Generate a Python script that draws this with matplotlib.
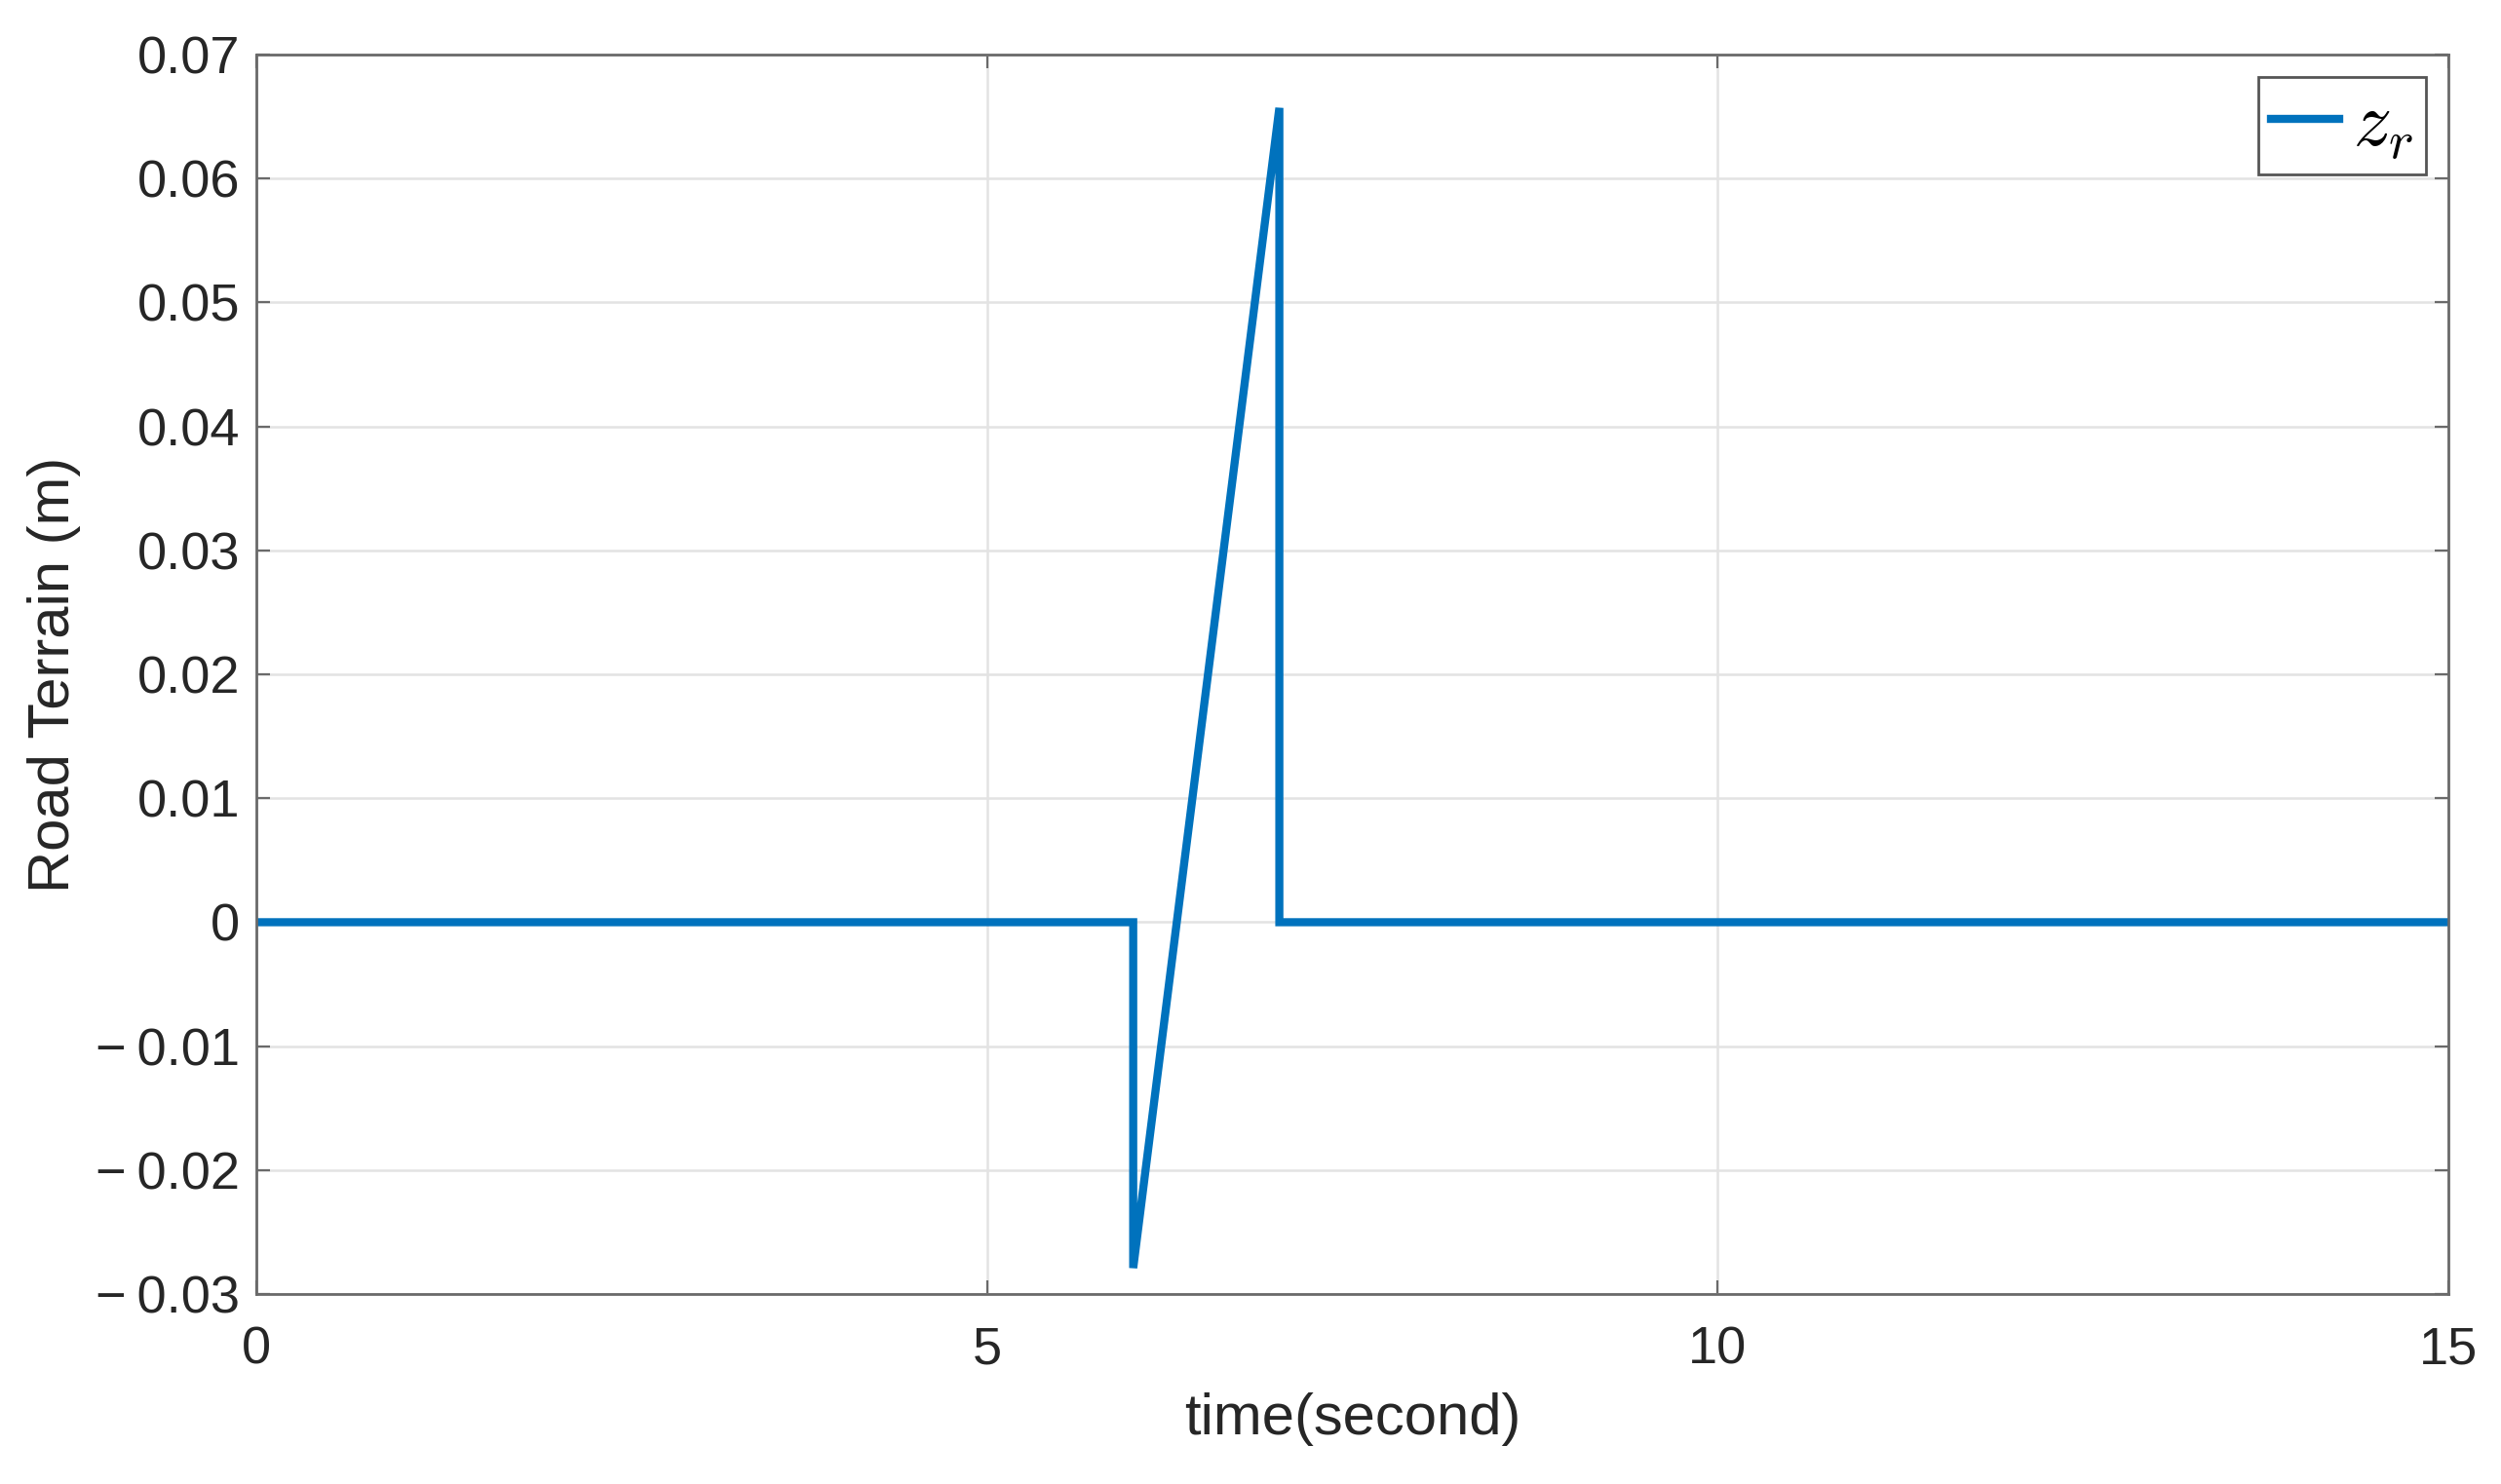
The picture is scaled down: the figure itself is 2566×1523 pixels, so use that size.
import matplotlib
matplotlib.use('Agg')
import matplotlib.pyplot as plt
from matplotlib.ticker import FuncFormatter

# road profile: flat, a sharp dip at t=6, ramp up to t=7, then drop back to zero
t = [0, 6.0, 6.0, 7.0, 7.0, 15]
zr = [0, 0, -0.0279, 0.0657, 0, 0]

xticks = [0, 5, 10, 15]
yticks = [-0.03, -0.02, -0.01, 0, 0.01, 0.02, 0.03, 0.04, 0.05, 0.06, 0.07]

plt.rcParams['font.family'] = ['Liberation Sans', 'DejaVu Sans']
plt.rcParams['mathtext.fontset'] = 'cm'

fig = plt.figure(figsize=(25.66, 15.23), dpi=100)
ax = fig.add_axes([0.1025, 0.128, 0.8765, 0.8352])

ax.plot(t, zr, color='#0072BD', lw=6, label='$z_r$', solid_joinstyle='miter')

ax.set_xlim(0, 15)
ax.set_ylim(-0.03, 0.07)
ax.set_xticks(xticks)
ax.set_yticks(yticks)


def yfmt(v, pos):
    if abs(v) < 1e-12:
        return '0'
    s = '%.2f' % abs(v)
    return ('\u2212\u2009' + s) if v < 0 else s


ax.yaxis.set_major_formatter(FuncFormatter(yfmt))
ax.xaxis.set_major_formatter(FuncFormatter(lambda v, p: '%d' % v))

ax.grid(True, color='#e3e3e3', lw=1.8)
ax.set_axisbelow(True)
for s in ax.spines.values():
    s.set_color('#6a6a6a')
    s.set_linewidth(2)
ax.tick_params(direction='in', length=10, width=1.6, color='#6a6a6a',
               top=True, right=True, labelsize=39, labelcolor='#262626')
ax.tick_params(axis='x', pad=23)
ax.tick_params(axis='y', pad=12)

ax.set_xlabel('time(second)', fontsize=43, color='#262626', labelpad=14)
ax.set_ylabel('Road Terrain (m)', fontsize=43, color='#262626', labelpad=11)

leg = ax.legend(loc='upper right', fontsize=56, fancybox=False, framealpha=1,
                edgecolor='#555555', handlelength=0.9, borderpad=0.17,
                handletextpad=0.18, borderaxespad=0.3)
leg.get_frame().set_linewidth(2)

fig.savefig('out.png', dpi=100)
